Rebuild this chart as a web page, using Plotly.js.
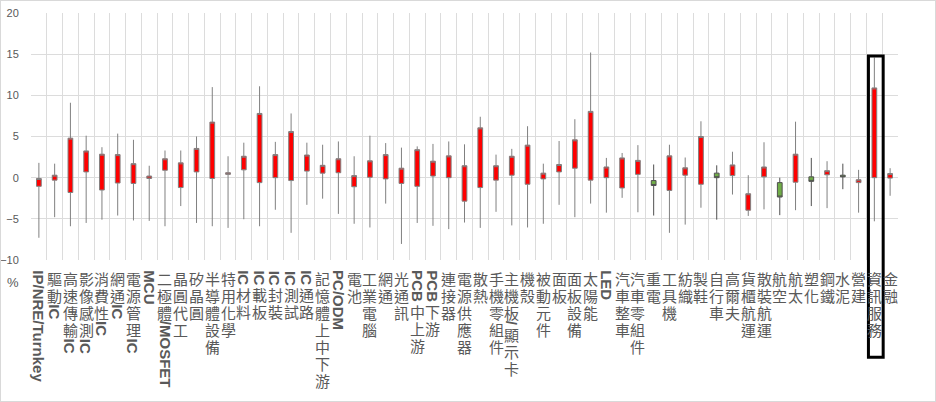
<!DOCTYPE html>
<html><head><meta charset="utf-8">
<script src="https://cdn.plot.ly/plotly-3.0.1.min.js"></script>
<style>
html,body{margin:0;padding:0;background:#fff;}
#wrap{position:relative;width:936px;height:402px;}
#chart{width:936px;height:402px;}
#frame{position:absolute;left:0;top:0;width:936px;height:402px;box-sizing:border-box;border:1px solid #d9d9d9;pointer-events:none;}
</style>
</head><body><div id="wrap"><div id="chart"></div><div id="frame"></div></div>
<script>
const categories = ["IP/NRE/Turnkey","驅動IC","高速傳輸IC","影像感測IC","消費性IC","網通IC","電源管理IC","MCU","二極體/MOSFET","晶圓代工","矽晶圓","半導體設備","特用化學","IC材料","IC載板","IC封裝","IC測試","IC通路","記憶體上中下游","PC/ODM","電池","工業電腦","網通","光通訊","PCB中上游","PCB下游","連接器","電源供應器","散熱","手機零組件","主機板/顯示卡","機殼","被動元件","面板","面板設備","太陽能","LED","汽車整車","汽車零組件","重電","工具機","紡織","製鞋","自行車","高爾夫","貨櫃航運","散裝航運","航空","航太","塑化","鋼鐵","水泥","營建","資訊服務","金融"];
const openVals  = [-1.05,-0.3,-1.8,0.7,-1.5,-0.65,-0.7,-0.1,0.9,-1.2,0.7,-0.1,0.4,0.95,-0.6,0.0,-0.35,0.8,0.55,0.6,-1.1,0.05,-0.15,-0.7,-1.05,0.2,0.0,-2.85,-1.2,-0.3,0.3,-0.8,-0.15,0.7,1.15,-0.3,0.0,-1.25,0.4,-0.35,-1.55,0.3,-0.8,0.55,0.25,-3.95,0.1,-0.6,-0.55,0.1,0.35,0.3,-0.6,0.0,-0.05];
const highVals  = [1.8,1.7,9.1,5.1,3.7,5.35,4.6,1.45,3.3,3.3,5.0,11.0,2.6,4.25,11.1,4.35,7.8,4.25,4.0,4.4,2.6,5.1,4.2,3.65,3.8,4.1,4.4,4.05,7.4,2.8,3.5,6.25,1.7,4.45,7.1,15.2,2.4,3.0,3.95,1.6,4.0,2.45,6.85,1.5,3.15,0.3,4.3,0.0,6.8,2.4,2.0,1.7,0.95,14.6,1.15];
const lowVals   = [-7.3,-4.8,-5.9,-5.5,-5.1,-4.6,-5.2,-5.25,-5.9,-3.45,-5.5,-5.9,-6.1,-5.05,-5.9,-3.9,-6.7,-3.3,-2.55,-4.4,-5.6,-6.05,-3.15,-8.05,-5.5,-5.85,-6.25,-5.45,-6.1,-4.15,-5.8,-6.05,-5.6,-3.3,-4.8,-3.15,-4.25,-2.45,-4.2,-4.6,-6.7,-5.7,-3.65,-5.1,-2.05,-4.65,-3.85,-4.55,-3.95,-3.45,-3.7,-1.4,-4.25,-5.3,-2.2];
const closeVals = [-0.1,0.3,4.8,3.25,2.85,2.8,1.7,0.2,2.3,1.8,3.55,6.75,0.6,2.6,7.8,2.8,5.6,2.75,1.5,2.3,0.25,2.05,2.8,1.15,3.4,2.0,2.65,1.45,6.05,1.45,2.6,3.95,0.55,1.6,4.6,8.05,1.3,2.4,2.1,-0.95,2.65,1.2,5.0,0.0,1.55,-1.95,1.3,-2.35,2.85,-0.45,0.85,0.1,-0.25,10.9,0.5];
const yTickVals = [-10,-5,0,5,10,15,20];
const yUnit = "%";

const TXT = '#595959';
const PLOT_BOTTOM = 260;
const LABEL_TOP = 270;
const CJK_PITCH = 17;
const LATIN_FONT_FAMILY = 'Liberation Sans';
const LATIN_SIZE = 15;
const CJK_FAMILY = 'Noto Sans CJK TC';
const CJK_SIZE = 15;

const ctx = document.createElement('canvas').getContext('2d');
ctx.font = 'bold ' + LATIN_SIZE + 'px "' + LATIN_FONT_FAMILY + '"';

function splitRuns(label){
  const out = []; let buf = '';
  for (const ch of label){
    if (/[\u2E80-\u9FFF\uF900-\uFAFF\uFF00-\uFFEF]/.test(ch)){
      if (buf){ out.push({t:buf, latin:true}); buf=''; }
      out.push({t:ch, latin:false});
    } else buf += ch;
  }
  if (buf) out.push({t:buf, latin:true});
  return out;
}

const annotations = [];
categories.forEach(function(cat){
  let y = LABEL_TOP;
  splitRuns(cat).forEach(function(r){
    let center, len;
    if (r.latin){
      len = ctx.measureText(r.t).width + 1;
      center = y + len/2;
      annotations.push({xref:'x', x:cat, yref:'paper', y:0, xanchor:'center', yanchor:'middle',
        yshift: -(center - PLOT_BOTTOM), text:r.t, textangle:90, showarrow:false, borderpad:0,
        font:{family:LATIN_FONT_FAMILY, size:LATIN_SIZE, color:TXT, weight:'bold'}});
    } else {
      len = CJK_PITCH;
      center = y + len/2;
      annotations.push({xref:'x', x:cat, yref:'paper', y:0, xanchor:'center', yanchor:'middle',
        yshift: -(center - PLOT_BOTTOM), text:r.t, showarrow:false, borderpad:0,
        font:{family:CJK_FAMILY, size:CJK_SIZE, color:TXT}});
    }
    y += len;
  });
});
annotations.push({xref:'paper', yref:'paper', x:-0.021, y:-0.093, xanchor:'center', yanchor:'middle',
  text:yUnit, showarrow:false, font:{family:'Liberation Sans', size:13, color:TXT}});

const trace = {
  type:'candlestick', x:categories, open:openVals, high:highVals, low:lowVals, close:closeVals,
  increasing:{fillcolor:'#FF0000', line:{color:'#808080', width:1}},
  decreasing:{fillcolor:'#70AD47', line:{color:'#505050', width:1}},
  whiskerwidth:0, hoverinfo:'skip', showlegend:false
};

const layout = {
  width:936, height:402,
  margin:{l:31, r:38, t:13, b:142, pad:0},
  paper_bgcolor:'#fff', plot_bgcolor:'#fff',
  boxgap:0.57,
  showlegend:false,
  xaxis:{type:'category', range:[-0.5, categories.length-0.5], tickson:'boundaries', showgrid:true,
    gridcolor:'#dcdcdc', gridwidth:1, showticklabels:false, ticks:'', showline:false, zeroline:false,
    rangeslider:{visible:false}, fixedrange:true, automargin:false},
  yaxis:{range:[-10,20], tickvals:yTickVals, showgrid:true, gridcolor:'#dcdcdc', gridwidth:1,
    zeroline:false, showline:false, ticks:'outside', ticklen:9, tickcolor:'rgba(0,0,0,0)',
    tickfont:{family:'Liberation Sans', size:11, color:TXT}, fixedrange:true, automargin:false},
  annotations:annotations,
  shapes:[{type:'rect', xref:'paper', yref:'paper', x0:0.9659, x1:0.9829, y0:-0.394, y1:0.826,
    line:{color:'#000', width:3}, fillcolor:'rgba(0,0,0,0)', layer:'above'}]
};

Plotly.newPlot('chart', [trace], layout, {staticPlot:true, displayModeBar:false});
</script>
</body></html>
